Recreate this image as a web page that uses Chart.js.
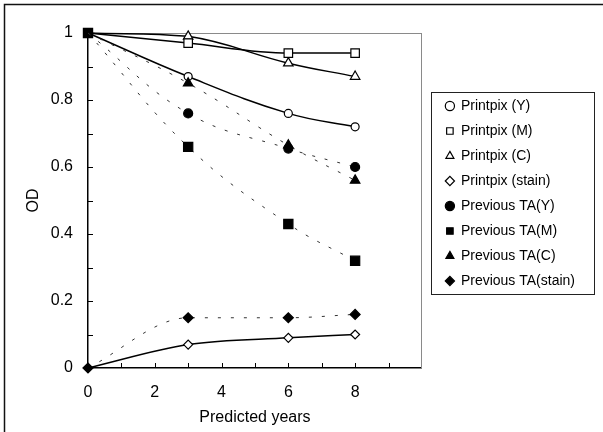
<!DOCTYPE html>
<html><head><meta charset="utf-8">
<script src="https://cdn.jsdelivr.net/npm/chart.js@4.4.1/dist/chart.umd.min.js"></script>
<style>html,body{margin:0;padding:0;background:#fff;}#wrap{width:603px;height:432px;}</style>
</head><body><div id="wrap"><canvas id="c" width="603" height="432"></canvas></div>
<script>
// ---- data ----
const years = [0, 3, 6, 8];
const printpixY = [1, 0.87, 0.76, 0.72];
const printpixM = [1, 0.97, 0.94, 0.94];
const printpixC = [1, 0.99, 0.91, 0.87];
const printpixStain = [0, 0.07, 0.09, 0.10];
const previousY = [1, 0.76, 0.655, 0.60];
const previousM = [1, 0.66, 0.43, 0.32];
const previousC = [1, 0.85, 0.665, 0.56];
const previousStain = [0, 0.15, 0.15, 0.16];
const seriesLabels = ['Printpix (Y)', 'Printpix (M)', 'Printpix (C)', 'Printpix (stain)',
  'Previous TA(Y)', 'Previous TA(M)', 'Previous TA(C)', 'Previous TA(stain)'];
const xTickLabels = ['0', '2', '4', '6', '8'];
const yTickLabels = ['0', '0.2', '0.4', '0.6', '0.8', '1'];
const xAxisTitle = 'Predicted years';
const yAxisTitle = 'OD';

Chart.defaults.font.family = "'Liberation Sans', Arial, sans-serif";
Chart.defaults.color = '#000';

const toXY = arr => arr.map((v, i) => ({x: years[i], y: v}));

function series(label, values, style, filled, radius, dashed, hideFirst, mono) {
  return {
    label: label,
    data: toXY(values),
    borderColor: dashed ? '#333' : '#000',
    borderWidth: dashed ? 1 : 1.5,
    borderDash: dashed ? [3, 10] : [],
    cubicInterpolationMode: mono ? 'monotone' : 'default',
    tension: 0.4,
    pointStyle: style,
    pointRadius: values.map((v, i) => (i === 0 && hideFirst) ? 0 : radius),
    pointBorderWidth: 1.2,
    pointBorderColor: '#000',
    pointBackgroundColor: filled ? '#000' : '#fff',
    backgroundColor: filled ? '#000' : '#fff',
    fill: false,
    clip: false,
    order: filled ? 0 : 1
  };
}

const datasets = [
  series(seriesLabels[0], printpixY, 'circle', false, 4, false, true, false),
  series(seriesLabels[1], printpixM, 'rect', false, 6, false, true, true),
  series(seriesLabels[2], printpixC, 'triangle', false, 5.5, false, true, false),
  series(seriesLabels[3], printpixStain, 'rectRot', false, 4.5, false, true, true),
  series(seriesLabels[4], previousY, 'circle', true, 4.5, true, true, false),
  series(seriesLabels[5], previousM, 'rect', true, 6.5, true, false, false),
  series(seriesLabels[6], previousC, 'triangle', true, 5.5, true, true, false),
  series(seriesLabels[7], previousStain, 'rectRot', true, 5, true, false, true)
];

const framePlugin = {
  id: 'frame',
  beforeDraw(chart) {
    const ctx = chart.ctx;
    ctx.save();
    ctx.fillStyle = '#fff';
    ctx.fillRect(0, 0, chart.width, chart.height);
    ctx.strokeStyle = '#111';
    ctx.lineWidth = 1.5;
    ctx.strokeRect(4.5, 4.5, chart.width + 10, chart.height + 10);
    ctx.restore();
  },
  beforeDatasetsDraw(chart) {
    const ctx = chart.ctx, a = chart.chartArea;
    const xs = chart.scales.x, ys = chart.scales.y;
    ctx.save();
    ctx.strokeStyle = '#000';
    ctx.lineWidth = 1;
    xs.ticks.forEach(t => {
      if (t.value <= xs.min || t.value >= xs.max) return;
      const px = Math.round(xs.getPixelForValue(t.value)) + 0.5;
      ctx.beginPath(); ctx.moveTo(px, a.bottom); ctx.lineTo(px, a.bottom - 5); ctx.stroke();
    });
    ys.ticks.forEach(t => {
      if (t.value <= ys.min || t.value >= ys.max) return;
      const py = Math.round(ys.getPixelForValue(t.value)) + 0.5;
      ctx.beginPath(); ctx.moveTo(a.left, py); ctx.lineTo(a.left + 5, py); ctx.stroke();
    });
    ctx.restore();
  },
  afterDraw(chart) {
    const lg = chart.legend;
    if (!lg || !lg.legendHitBoxes || !lg.legendHitBoxes.length) return;
    const hb = lg.legendHitBoxes;
    const last = hb[hb.length - 1];
    const ctx = chart.ctx;
    const x0 = Math.round(lg.left - 4) + 0.5;
    const y0 = Math.round(hb[0].top - 7) + 0.5;
    const x1 = x0 + 163;
    const y1 = Math.round(last.top + last.height + 6) + 0.5;
    ctx.save();
    ctx.strokeStyle = '#222';
    ctx.lineWidth = 1;
    ctx.strokeRect(x0, y0, x1 - x0, y1 - y0);
    ctx.restore();
  }
};

new Chart(document.getElementById('c'), {
  type: 'line',
  data: {datasets: datasets},
  options: {
    responsive: false,
    animation: false,
    devicePixelRatio: 1,
    layout: {padding: {left: 0, right: 18, top: 0, bottom: 0}},
    plugins: {
      tooltip: {enabled: false},
      legend: {
        position: 'right',
        align: 'start',
        fullSize: false,
        maxWidth: 200,
        title: {display: true, text: '', font: {size: 10}, padding: {top: 43, bottom: 0}},
        labels: {
          usePointStyle: true,
          boxWidth: 8,
          boxHeight: 6.5,
          padding: 11,
          color: '#000',
          font: {size: 14},
          generateLabels(chart) {
            return chart.data.datasets.map((d, i) => ({
              text: d.label,
              fillStyle: d.pointBackgroundColor,
              strokeStyle: '#000',
              lineWidth: 1.2,
              lineDash: [],
              pointStyle: d.pointStyle,
              hidden: false,
              datasetIndex: i
            }));
          }
        }
      }
    },
    scales: {
      x: {
        type: 'linear', position: 'bottom', min: 0, max: 10,
        grid: {display: false, drawTicks: false},
        border: {display: true, color: '#000', width: 1.5},
        ticks: {
          stepSize: 1, autoSkip: false, maxRotation: 0, padding: 15,
          font: {size: 16}, color: '#000',
          callback: v => xTickLabels.includes(String(v)) ? String(v) : ''
        },
        title: {display: true, text: xAxisTitle, font: {size: 16}, color: '#000', padding: {top: 0, bottom: 5}},
        afterFit: s => { s.height = 64; }
      },
      y: {
        type: 'linear', position: 'left', min: 0, max: 1,
        grid: {display: false, drawTicks: false},
        border: {display: true, color: '#000', width: 1.5},
        ticks: {
          stepSize: 0.1, autoSkip: false, padding: 15,
          font: {size: 16}, color: '#000',
          callback: v => { const s = String(Math.round(v * 10) / 10); return yTickLabels.includes(s) ? s : ''; }
        },
        title: {display: true, text: yAxisTitle, font: {size: 16}, color: '#000', padding: {top: 24, bottom: 0}},
        afterFit: s => { s.width = 88; }
      },
      x2: {
        type: 'linear', position: 'top', min: 0, max: 10,
        grid: {display: false, drawTicks: false},
        border: {display: true, color: '#8a8a8a', width: 1},
        ticks: {display: false},
        afterFit: s => { s.height = 33; }
      },
      y2: {
        type: 'linear', position: 'right', min: 0, max: 1,
        grid: {display: false, drawTicks: false},
        border: {display: true, color: '#8a8a8a', width: 1},
        ticks: {display: false},
        afterFit: s => { s.width = 13; }
      }
    }
  },
  plugins: [framePlugin]
});
</script>
</body></html>
